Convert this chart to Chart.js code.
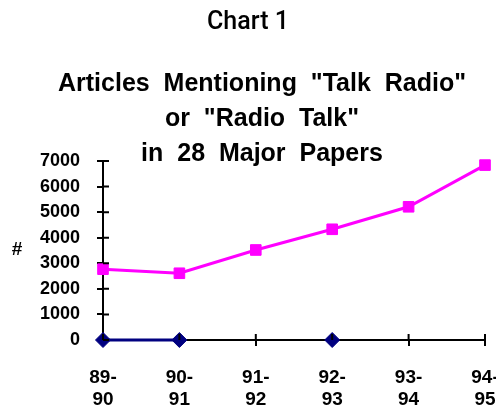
<!DOCTYPE html>
<html>
<head>
<meta charset="utf-8">
<script src="https://cdn.jsdelivr.net/npm/chart.js@4/dist/chart.umd.min.js"></script>
<style>
  body { margin: 0; background: #fff; }
  #wrap { position: relative; width: 496px; height: 408px; }
  #heading {
    position: absolute; left: 0; top: 6px; width: 496px;
    text-align: center; font: 500 25px Roboto, "Liberation Sans", Arial, sans-serif;
    line-height: 29px; color: #000;
  }
</style>
</head>
<body>
<div id="wrap">
  <canvas id="talkChart" width="496" height="408"></canvas>
  <div id="heading">Chart 1</div>
</div>
<script>
// season labels along the x axis
const seasons = ['89-90', '90-91', '91-92', '92-93', '93-94', '94-95'];
// articles per season (magenta squares)
const articleCounts = [2770, 2610, 3520, 4330, 5210, 6840];
// second series, only three points sitting on zero (navy diamonds)
const otherCounts = [0, 0, null, 0, null, null];
const yTicks = [0, 1000, 2000, 3000, 4000, 5000, 6000, 7000];

const titleLines = [
    'Articles  Mentioning  "Talk  Radio"',
    'or  "Radio  Talk"',
    'in  28  Major  Papers'
];

const FONT = '"Liberation Sans", Arial, sans-serif';

// draws the part of each tick that crosses into the plot, plus the "#" label
const crossTicks = {
    id: 'crossTicks',
    afterDraw(chart) {
        const { ctx, scales: { x, y } } = chart;
        ctx.save();
        ctx.strokeStyle = '#000';
        ctx.lineWidth = 2;
        ctx.beginPath();
        yTicks.forEach(v => {
            const py = y.getPixelForValue(v);
            ctx.moveTo(x.left, py);
            ctx.lineTo(x.left + 6, py);
        });
        seasons.forEach((s, i) => {
            const px = x.getPixelForValue(i);
            ctx.moveTo(px, y.bottom);
            ctx.lineTo(px, y.bottom - 6);
        });
        ctx.stroke();

        ctx.fillStyle = '#000';
        ctx.font = 'bold 19px ' + FONT;
        ctx.textAlign = 'center';
        ctx.textBaseline = 'middle';
        ctx.fillText('#', 17, 250);
        ctx.restore();
    }
};

new Chart(document.getElementById('talkChart'), {
    type: 'line',
    data: {
        labels: seasons,
        datasets: [{
            label: 'other',
            data: otherCounts,
            borderColor: '#000080',
            backgroundColor: '#000080',
            borderWidth: 3,
            pointStyle: 'rectRot',
            pointRadius: 7.5,
            pointBorderWidth: 1,
            spanGaps: false,
            clip: false,
            tension: 0
        }, {
            label: 'articles',
            data: articleCounts,
            borderColor: '#FF00FF',
            backgroundColor: '#FF00FF',
            borderWidth: 3,
            pointStyle: 'rect',
            pointRadius: 7.5,
            pointBorderWidth: 1,
            clip: false,
            tension: 0
        }]
    },
    options: {
        responsive: false,
        animation: false,
        layout: { padding: { left: 39, right: 11, top: 0, bottom: 0 } },
        plugins: {
            legend: { display: false },
            tooltip: { enabled: false },
            title: {
                display: true,
                text: titleLines,
                color: '#000',
                font: { family: FONT, size: 25, weight: 'bold', lineHeight: 1.4 },
                padding: { top: 67, bottom: -11 }
            }
        },
        scales: {
            x: {
                offset: false,
                afterFit: s => { s.height = 68; s.paddingLeft = 0; s.paddingRight = 0; },
                border: { display: true, color: '#000', width: 2 },
                grid: { drawOnChartArea: false, color: '#000', lineWidth: 2, tickLength: 6 },
                ticks: {
                    color: '#000',
                    padding: 20,
                    maxRotation: 0,
                    autoSkip: false,
                    font: { family: FONT, size: 19, weight: 'bold', lineHeight: 1.2 },
                    callback: (v, i) => {
                        const parts = seasons[i].split('-');
                        return [parts[0] + '-', parts[1]];
                    }
                }
            },
            y: {
                min: 0,
                max: 7000,
                afterFit: s => { s.width = 64; },
                afterBuildTicks: s => { s.ticks = yTicks.map(v => ({ value: v })); },
                border: { display: true, color: '#000', width: 2 },
                grid: { drawOnChartArea: false, color: '#000', lineWidth: 2, tickLength: 6 },
                ticks: {
                    color: '#000',
                    padding: 17,
                    font: { family: FONT, size: 18, weight: 'bold' },
                    callback: v => String(v)
                }
            }
        }
    },
    plugins: [crossTicks]
});
</script>
</body>
</html>
